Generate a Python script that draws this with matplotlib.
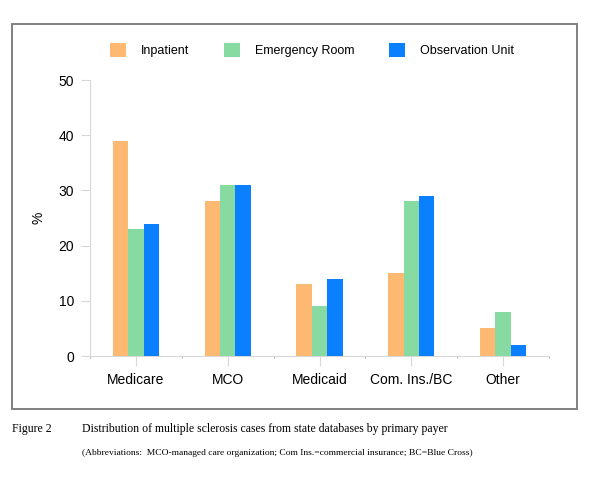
import numpy as np
import matplotlib.pyplot as plt
from matplotlib.patches import Rectangle

categories = ['Medicare', 'MCO', 'Medicaid', 'Com. Ins./BC', 'Other']
series = ['Inpatient', 'Emergency Room', 'Observation Unit']
inpatient = [39, 28, 13, 15, 5]
emergency = [23, 31, 9, 28, 8]
observation = [24, 31, 14, 29, 2]
colors = ['#FDB872', '#87DBA2', '#0A80FF']
yticks = [0, 10, 20, 30, 40, 50]

plt.rcParams['font.family'] = ['Liberation Sans', 'DejaVu Sans']

fig = plt.figure(figsize=(6, 4.79), dpi=100)
ax = fig.add_axes([90/600, 1 - 356/479, (549 - 90)/600, (356 - 80)/479])

x = np.arange(len(categories))
w = 0.168
for i, (vals, lab) in enumerate(zip([inpatient, emergency, observation], series)):
    ax.bar(x + (i - 1) * w, vals, w, color=colors[i], label=lab, zorder=3)

ax.set_xlim(-0.5, len(categories) - 0.5)
ax.set_ylim(0, 50)
ax.set_yticks(yticks)
ax.set_xticks(x)
ax.set_xticklabels(categories)
ax.set_xticks(np.arange(len(categories) + 1) - 0.5, minor=True)

for s in ['top', 'right']:
    ax.spines[s].set_visible(False)
for s in ['left', 'bottom']:
    ax.spines[s].set_color('#d8d8d8')
    ax.spines[s].set_linewidth(0.8)

ax.tick_params(axis='y', length=6.5, width=0.8, color='#d8d8d8', pad=5, labelsize=10)
ax.tick_params(axis='x', which='major', length=7.5, width=0.8, color='#d8d8d8',
               pad=5, labelsize=10)
ax.tick_params(axis='x', which='minor', length=1.5, width=0.8, color='#b0b0b0')
ax.set_ylabel('%', fontsize=10, labelpad=9)

# legend above the plot
ax.legend(loc='lower left', bbox_to_anchor=(105/600, 1 - 62/479), bbox_transform=fig.transFigure,
          ncol=3, frameon=False, fontsize=9, handlelength=1.3, handleheight=1.3,
          handletextpad=1.2, columnspacing=2.75, borderaxespad=0)

# outer border
fig.patches.append(Rectangle((12/600, 1 - 409/479), (577 - 12)/600, (409 - 24)/479,
                             transform=fig.transFigure, fill=False,
                             edgecolor='#808080', linewidth=1.4))

fig.text(12/600, 1 - 429/479, 'Figure 2', family='Liberation Serif', fontsize=8.5, va='center')
fig.text(82/600, 1 - 429/479,
         'Distribution of multiple sclerosis cases from state databases by primary payer',
         family='Liberation Serif', fontsize=8.5, va='center')
fig.text(82/600, 1 - 453/479,
         '(Abbreviations:  MCO-managed care organization; Com Ins.=commercial insurance; BC=Blue Cross)',
         family='Liberation Serif', fontsize=6.8, va='center')

fig.savefig('out.png', dpi=100)
